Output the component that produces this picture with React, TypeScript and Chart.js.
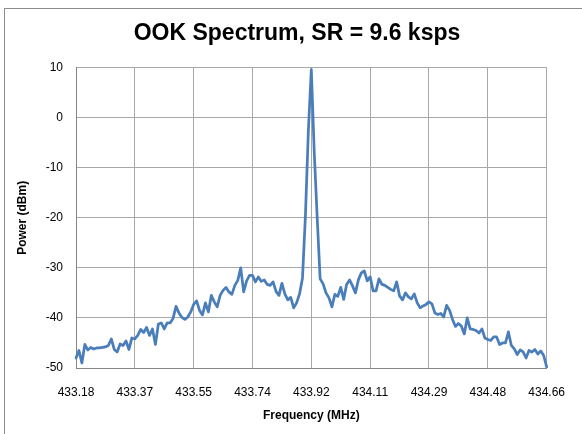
import React, { useEffect, useRef } from "react";
import { Chart, registerables } from "chart.js";

Chart.register(...registerables);

const chartTitle = "OOK Spectrum, SR = 9.6 ksps";
const xAxisTitle = "Frequency (MHz)";
const yAxisTitle = "Power (dBm)";

const tickLabels = [
  "433.18", "433.37", "433.55", "433.74", "433.92",
  "434.11", "434.29", "434.48", "434.66",
];
const pointsPerTick = 20;

const powerDbm = [
  -48.0, -46.5, -49.0, -45.3, -46.4, -45.9, -46.2, -46.0, -46.0, -45.9,
  -45.8, -45.5, -44.2, -46.3, -46.8, -45.2, -45.5, -44.6, -46.3, -44.0,
  -44.2, -43.5, -42.3, -42.9, -41.9, -43.5, -42.2, -45.3, -41.2, -41.0,
  -42.2, -41.0, -41.0, -40.1, -37.7, -39.0, -39.9, -40.3, -39.8, -38.8,
  -37.3, -36.6, -38.5, -39.4, -37.0, -38.8, -35.5, -36.8, -37.8, -35.5,
  -34.5, -33.9, -34.8, -35.3, -33.5, -32.5, -30.0, -34.8, -32.6, -31.5,
  -31.5, -32.8, -31.8, -32.7, -32.4, -33.3, -33.5, -32.8, -34.7, -35.5,
  -33.1, -35.2, -36.4, -35.9, -38.0, -37.0, -35.2, -32.0, -19.5, -2.5,
  9.6, -7.0, -20.0, -32.2, -33.2, -35.0, -36.0, -37.8, -35.3, -35.7,
  -33.9, -36.3, -33.3, -32.4, -33.6, -35.0, -32.4, -31.0, -30.6, -32.6,
  -31.8, -34.6, -34.6, -32.2, -33.3, -33.5, -33.9, -34.3, -34.6, -32.8,
  -35.6, -36.4, -35.0, -35.8, -36.2, -35.2, -37.0, -38.0, -37.6, -37.3,
  -36.8, -37.2, -39.0, -39.3, -39.1, -39.8, -37.5, -38.5, -40.3, -41.7,
  -41.1, -41.6, -43.2, -40.0, -42.2, -42.3, -42.5, -43.0, -42.2, -44.0,
  -44.3, -44.5, -43.8, -43.8, -45.3, -45.0, -45.0, -42.8, -45.5, -46.2,
  -47.3, -46.4, -46.8, -48.0, -46.5, -46.8, -46.3, -47.2, -46.6, -47.5,
  -49.8,
];

const yMin = -50;
const yMax = 10;
const yStep = 10;

export default function App() {
  const canvasRef = useRef<HTMLCanvasElement | null>(null);

  useEffect(() => {
    const canvas = canvasRef.current;
    if (!canvas) return;
    const labels = powerDbm.map((_, i) =>
      i % pointsPerTick === 0 ? tickLabels[i / pointsPerTick] : ""
    );
    const tickFont = { family: "'Liberation Sans', Arial, sans-serif", size: 12 };
    const titleFont = {
      family: "'Liberation Sans', Arial, sans-serif",
      size: 12,
      weight: "bold" as const,
    };
    const chart = new Chart(canvas, {
      type: "line",
      data: {
        labels,
        datasets: [
          {
            data: powerDbm,
            borderColor: "#4a7ebb",
            backgroundColor: "#4a7ebb",
            borderWidth: 2.75,
            pointRadius: 0,
            tension: 0,
            borderJoinStyle: "round",
            borderCapStyle: "round",
            yAxisID: "y",
          },
        ],
      },
      options: {
        animation: false,
        responsive: false,
        devicePixelRatio: 1,
        layout: { padding: { left: 12, right: 0, top: 0, bottom: 0 } },
        plugins: {
          legend: { display: false },
          tooltip: { enabled: false },
          title: {
            display: true,
            text: chartTitle,
            color: "#000000",
            font: {
              family: "'Liberation Sans', Arial, sans-serif",
              size: 23,
              weight: "bold",
            },
            padding: { top: 20, bottom: 20 },
          },
        },
        scales: {
          x: {
            type: "category",
            offset: false,
            afterBuildTicks: (scale: any) => {
              scale.ticks = scale.ticks.filter(
                (t: any) => t.value % pointsPerTick === 0
              );
            },
            afterFit: (scale: any) => {
              scale.height = 66;
            },
            grid: {
              color: "#a8a8a8",
              lineWidth: 1,
              drawTicks: false,
            },
            border: { display: true, color: "#868686", width: 1 },
            ticks: {
              autoSkip: false,
              maxRotation: 0,
              minRotation: 0,
              padding: 17,
              color: "#000000",
              font: tickFont,
            },
            title: {
              display: true,
              text: xAxisTitle,
              color: "#000000",
              font: titleFont,
              padding: { top: 0, bottom: 11 },
            },
          },
          y: {
            type: "linear",
            position: "left",
            min: yMin,
            max: yMax,
            afterFit: (scale: any) => {
              scale.width = 64;
            },
            grid: {
              color: "#a8a8a8",
              lineWidth: 1,
              drawTicks: false,
            },
            border: { display: true, color: "#868686", width: 1 },
            ticks: {
              stepSize: yStep,
              padding: 13,
              color: "#000000",
              font: tickFont,
            },
            title: {
              display: true,
              text: yAxisTitle,
              color: "#000000",
              font: titleFont,
              padding: { top: 3, bottom: 0 },
            },
          },
          y2: {
            type: "linear",
            position: "right",
            afterFit: (scale: any) => {
              scale.width = 34;
            },
            grid: { display: false, drawTicks: false },
            border: { display: false },
            ticks: { display: false },
          },
        },
      },
    });
    return () => {
      chart.destroy();
    };
  }, []);

  return (
    <div
      style={{
        position: "fixed",
        left: 0,
        top: 0,
        width: 582,
        height: 434,
        overflow: "hidden",
        background: "#ffffff",
      }}
    >
      <div
        style={{
          position: "absolute",
          left: 4,
          top: 8,
          width: 640,
          height: 480,
          border: "1px solid #8c8c8c",
        }}
      />
      <canvas
        ref={canvasRef}
        width={582}
        height={434}
        style={{ position: "absolute", left: 0, top: 0, width: 582, height: 434 }}
      />
    </div>
  );
}
